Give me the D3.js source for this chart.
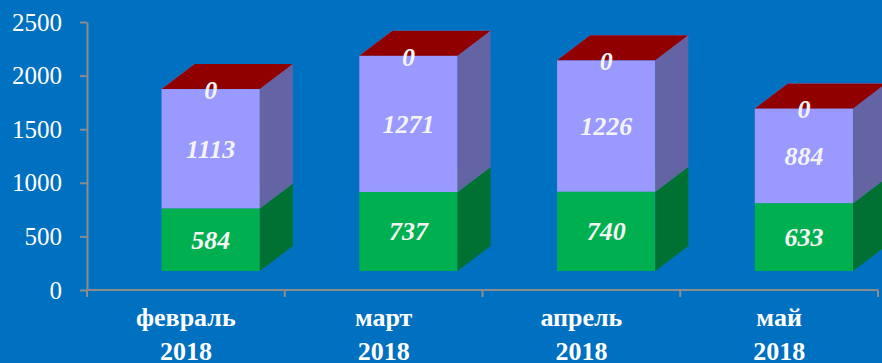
<!DOCTYPE html>
<html lang="ru">
<head>
<meta charset="UTF-8">
<script src="https://d3js.org/d3.v7.min.js"></script>
<style>
  html, body { margin: 0; padding: 0; background: #0070C0; }
  svg { display: block; }
  svg text { font-family: 'Liberation Serif', 'Times New Roman', serif; }
</style>
</head>
<body>
<svg id="chart" width="882" height="363"></svg>
<script>
// data
const months = ["февраль", "март", "апрель", "май"];
const years = ["2018", "2018", "2018", "2018"];
const greenVals = [584, 737, 740, 633];
const lavenderVals = [1113, 1271, 1226, 884];
const redVals = [0, 0, 0, 0];
const yTicks = [0, 500, 1000, 1500, 2000, 2500];

const seriesList = [
    { vals: greenVals, front: "#00B050", side: "#007033", top: "#00B050" },
    { vals: lavenderVals, front: "#9999FF", side: "#6464A4", top: "#9999FF" },
    { vals: redVals, front: "#900000", side: "#900000", top: "#900000" }
];

const svg = d3.select("#chart");

const x = d3.scaleBand().domain(months).range([87, 878]).padding(0);
const y = d3.scaleLinear().domain([0, 2500]).range([290, 22]);

// 3d depth and front-face shift
const dx = 33, dy = -25, lift = -19;

// axes
const yAxis = svg.append("g").attr("transform", "translate(87,0)")
    .call(d3.axisLeft(y).tickValues(yTicks).tickFormat(d3.format("d"))
        .tickSize(7).tickSizeOuter(0).tickPadding(18));
yAxis.select(".domain").attr("stroke", "#8c8c8c").attr("stroke-width", 2);
yAxis.selectAll(".tick line").attr("stroke", "#8c8c8c").attr("stroke-width", 2);
yAxis.selectAll(".tick text")
    .attr("fill", "#fff")
    .attr("font-size", 25);

const xAxis = svg.append("g").attr("transform", "translate(0,290)");
xAxis.append("line").attr("x1", 87).attr("x2", 878)
    .attr("stroke", "#8c8c8c").attr("stroke-width", 2);
const bounds = months.map(m => x(m)).concat([x(months[3]) + x.bandwidth()]);
xAxis.selectAll("line.tk").data(bounds).enter().append("line")
    .attr("class", "tk")
    .attr("x1", d => d).attr("x2", d => d)
    .attr("y1", 0).attr("y2", 7)
    .attr("stroke", "#8c8c8c").attr("stroke-width", 2);

const labels = svg.append("g")
    .attr("font-weight", "bold")
    .attr("font-size", 26)
    .attr("fill", "#fff")
    .attr("text-anchor", "middle");
months.forEach((m, i) => {
    const cx = x(m) + x.bandwidth() / 2;
    labels.append("text").attr("x", cx).attr("y", 326).text(m);
    labels.append("text").attr("x", cx).attr("y", 360).text(years[i]);
});

// bars
const bw = x.bandwidth() * 0.497;
const barsG = svg.append("g");
months.forEach((m, i) => {
    const x0 = x(m) + x.bandwidth() * 0.377;
    let base = 0;
    seriesList.forEach(s => {
        const v = s.vals[i];
        const yb = y(base) + lift, yt = y(base + v) + lift;
        const g = barsG.append("g");
        g.append("rect").attr("x", x0).attr("y", yt).attr("width", bw).attr("height", yb - yt)
            .attr("fill", s.front);
        g.append("path")
            .attr("d", `M${x0 + bw},${yb}L${x0 + bw + dx},${yb + dy}L${x0 + bw + dx},${yt + dy}L${x0 + bw},${yt}Z`)
            .attr("fill", s.side);
        g.append("path")
            .attr("d", `M${x0},${yt}L${x0 + dx},${yt + dy}L${x0 + bw + dx},${yt + dy}L${x0 + bw},${yt}Z`)
            .attr("fill", s.top);
        base += v;
    });
    // value labels
    base = 0;
    seriesList.forEach(s => {
        const v = s.vals[i];
        const cy = v === 0 ? y(base) + lift + 1 : (y(base) + y(base + v)) / 2 + lift;
        barsG.append("text")
            .attr("x", x0 + bw / 2)
            .attr("y", cy + 9)
            .attr("text-anchor", "middle")
            .attr("fill", "#f4f4f4")
            .attr("font-weight", "bold")
            .attr("font-style", "italic")
            .attr("font-size", 26)
            .text(v);
        base += v;
    });
});
</script>
</body>
</html>
